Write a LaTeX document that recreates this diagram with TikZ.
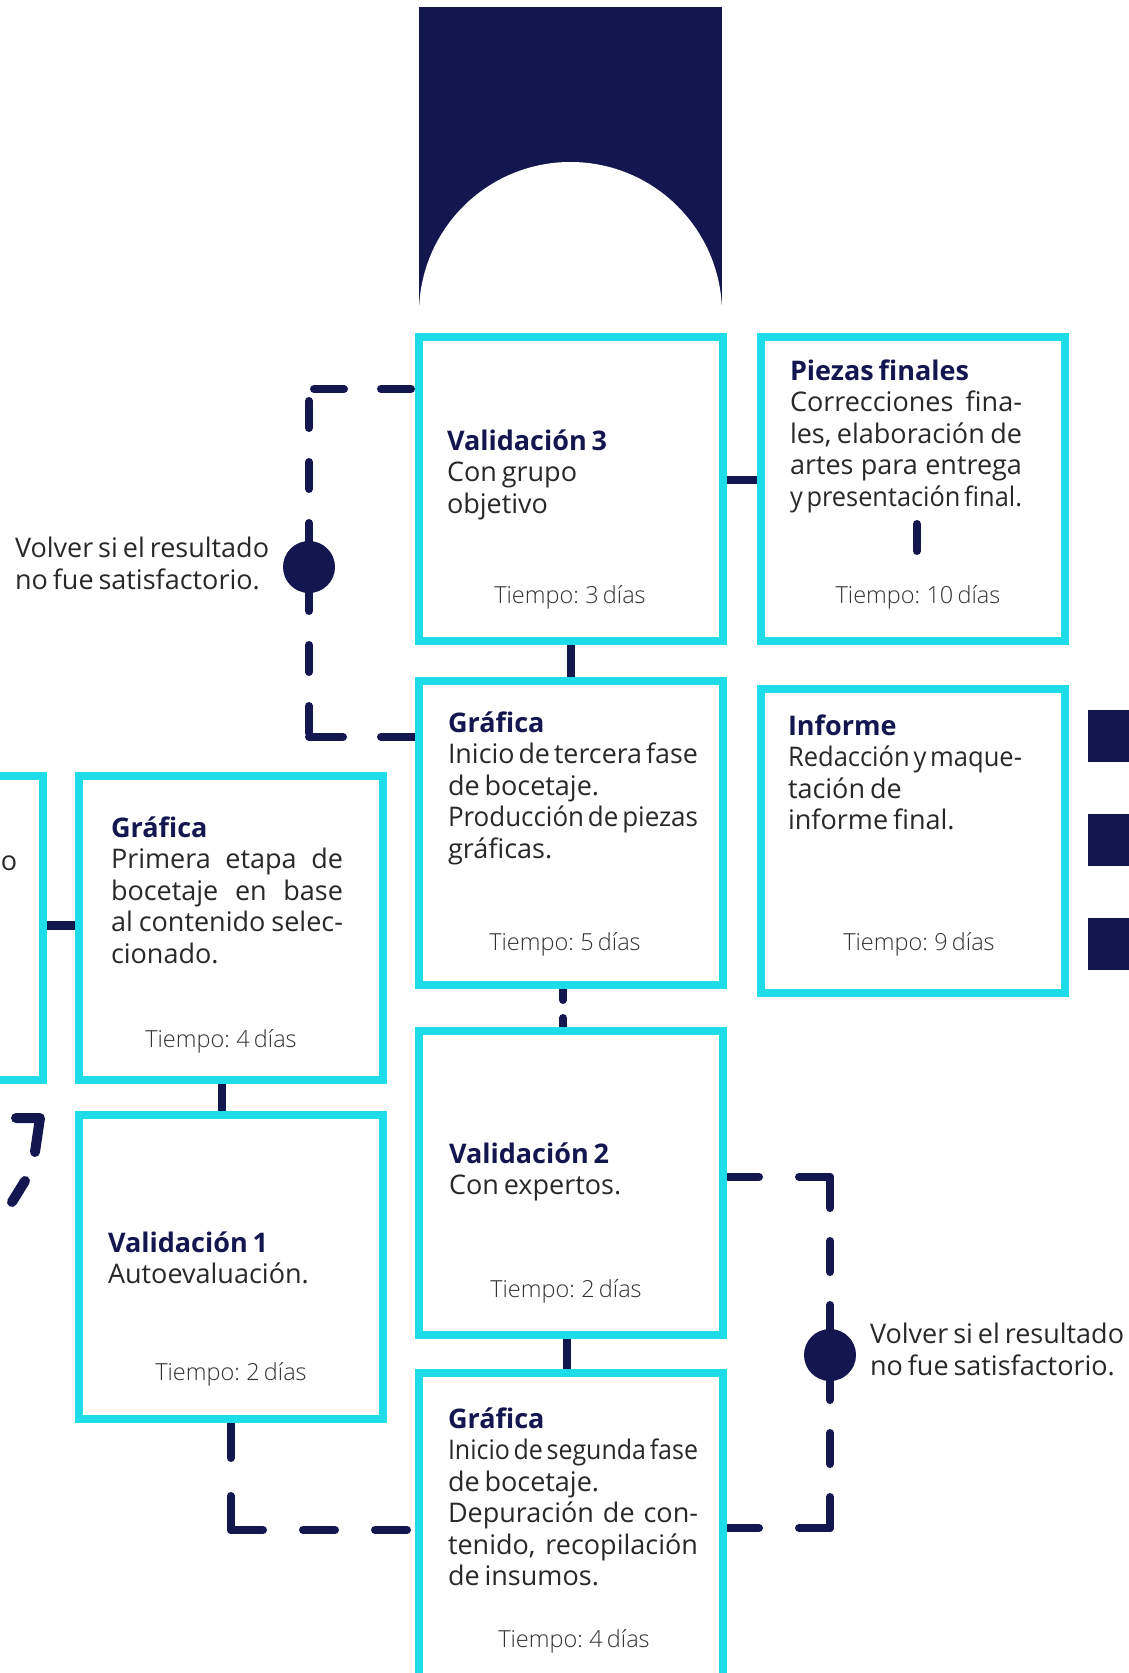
\documentclass[tikz,border=0pt]{standalone}
\usepackage{fontspec}
\usepackage{graphicx}
\setmainfont{Open Sans}[WordSpace={0.7}]
\IfFontExistsTF{Open Sans Light}{\newfontfamily\lightfont{Open Sans Light}[WordSpace={0.7}]}{\newfontfamily\lightfont{Open Sans}[WordSpace={0.7}]}
\pgfdeclarelayer{bg}
\pgfsetlayers{bg,main}
\definecolor{navy}{RGB}{20,22,80}
\definecolor{cyanb}{RGB}{30,220,232}
\definecolor{bodyc}{RGB}{40,40,40}
\definecolor{timec}{RGB}{50,50,50}
\newcommand\bodyfont{\fontsize{27}{31.5}\selectfont\lineskiplimit=-100pt\relax}
\newcommand\volfont{\fontsize{27}{32}\selectfont\lineskiplimit=-100pt\relax}
\newcommand\timefont{\lightfont\fontsize{23.5}{28}\selectfont}
\newsavebox\jbox
\newcommand\Ln[1]{\hbox{#1}}
\newcommand\Jn[1]{\sbox\jbox{#1}%
  \ifdim\wd\jbox>\linewidth
    \hbox{\resizebox{\linewidth}{\height}{\usebox\jbox}}%
  \else
    \hbox to \linewidth{#1}%
  \fi}
\newcommand\gap{\hskip 4pt plus 1fill\relax}
\newcommand\Ttl[1]{\hbox{\bfseries\color{navy}#1}}
\newcommand\Card[2]{\begin{minipage}[t]{#1}#2\end{minipage}}
\begin{document}
\begin{tikzpicture}[x=1pt,y=-1pt,
  card/.style={draw=cyanb, line width=8pt, fill=white, minimum width=304pt,
    minimum height=304pt, inner sep=0pt, outer sep=0pt},
  link/.style={draw=navy, line width=8pt, line cap=round},
  loopd/.style={draw=navy, line width=8pt, line cap=round},
  txt/.style={anchor=base west, inner sep=0pt, outer sep=0pt, text=bodyc, font=\bodyfont},
  voltxt/.style={anchor=base west, inner sep=0pt, outer sep=0pt, text=bodyc, font=\volfont},
  time/.style={anchor=base, inner sep=0pt, outer sep=0pt, text=timec, font=\timefont},
  dot/.style={circle, fill=navy, minimum size=52pt, inner sep=0pt}]
\useasboundingbox (0,0) rectangle (1129,1673);
\clip (0,0) rectangle (1129,1673);

% top shape
\begin{scope}
  \clip (419,7) rectangle (722,313.5);
  \fill[navy] (419,7) rectangle (722,313.5);
  \fill[white] (570.5,313.5) circle[radius=151.5pt];
\end{scope}

% right squares
\fill[navy] (1088,710) rectangle (1140,762);
\fill[navy] (1088,814) rectangle (1140,866);
\fill[navy] (1088,918) rectangle (1140,970);

% cards
\node[card] (v3) at (571,489) {};
\node[card] (pz) at (913,489) {};
\node[card] (g3) at (571,833) {};
\node[card] (inf) at (913,841) {};
\node[card] (v2) at (571,1183) {};
\node[card] (g1) at (231,928) {};
\node[card] (v1) at (231,1267) {};
\node[card] (lp) at (-109,928) {};
\node[card, minimum height=330pt] (g2) at (571,1538) {};

% loop corner coordinates
\coordinate (lTop) at (309,389);
\coordinate (lBot) at (309,737);
\coordinate (rTop) at (830,1177);
\coordinate (rBot) at (830,1528);
\coordinate (bl) at (231,1530);

\begin{pgfonlayer}{bg}
  \draw[link] ([yshift=9pt]v3.east) -- ([yshift=9pt]pz.west);
  \draw[link] (v3.south) -- (g3.north);
  \draw[link, dash pattern=on 15pt off 18pt] ([xshift=-8pt]g3.south) -- ([xshift=-8pt]v2.north);
  \draw[link] ([xshift=-4pt]v2.south) -- ([xshift=-4pt]g2.north);
  \draw[link] ([xshift=-9pt]g1.south) -- ([xshift=-9pt]v1.north);
  \draw[link, line width=9pt] ([yshift=3pt]lp.east) -- ([yshift=3pt]g1.west);
  % left loop
  \draw[loopd, dash pattern=on 30pt off 37pt, dash phase=62pt] (lTop) -- (v3.west |- lTop);
  \draw[loopd, dash pattern=on 27pt off 34pt, dash phase=49pt] (lTop) -- (lBot);
  \draw[loopd, dash pattern=on 34pt off 38pt] (lBot) -- (g3.west |- lBot);
  % right loop
  \draw[loopd, dash pattern=on 31pt off 40pt] (rTop) -- (v2.east |- rTop);
  \draw[loopd, dash pattern=on 31pt off 33pt] (rTop) -- (rBot);
  \draw[loopd, dash pattern=on 31pt off 40pt] (rBot) -- (g2.east |- rBot);
  % bottom-left loop
  \draw[loopd, dash pattern=on 34pt off 38pt] (bl) -- (v1.south);
  \draw[loopd, dash pattern=on 32pt off 40pt] (bl) -- (g2.west |- bl);
\end{pgfonlayer}

\node[dot] (d1) at (309,567) {};
\node[dot] (d2) at (830,1355) {};

% left curl pieces
\draw[navy, line width=10pt, line cap=round, line join=round] (16,1118) -- (40,1118) -- (35,1152);
\draw[navy, line width=10pt, line cap=round] (25,1181) -- (12,1202);

% stub inside Piezas finales
\coordinate (pzs1) at (917,524);
\coordinate (pzs2) at (917,551);
\draw[link] (pzs1) -- (pzs2);

% texts
\node[txt] (t-v3) at (447,450) {\Card{250pt}{\Ttl{Validación 3}\Ln{Con grupo}\Ln{objetivo}}};
\node[txt] (t-pz) at (790,380) {\Card{232pt}{\Ttl{Piezas finales}\Jn{Correcciones\gap fina-}\Jn{les,\gap elaboración\gap de}\Jn{artes\gap para\gap entrega}\Jn{y\gap presentación\gap final.}}};
\node[txt] (t-g3) at (448,732) {\Card{250pt}{\Ttl{Gráfica}\Jn{Inicio\gap de\gap tercera\gap fase}\Ln{de bocetaje.}\Jn{Producción\gap de\gap piezas}\Ln{gráficas.}}};
\node[txt] (t-inf) at (788,735) {\Card{234pt}{\Ttl{Informe}\Jn{Redacción\gap y\gap maque-}\Ln{tación de}\Ln{informe final.}}};
\node[txt] (t-g1) at (111,837) {\Card{232pt}{\Ttl{Gráfica}\Jn{Primera\gap etapa\gap de}\Jn{bocetaje\gap en\gap base}\Jn{al\gap contenido\gap selec-}\Ln{cionado.}}};
\node[txt] (t-v1) at (108,1252) {\Card{250pt}{\Ttl{Validación 1}\Ln{Autoevaluación.}}};
\node[txt] (t-v2) at (449,1163) {\Card{250pt}{\Ttl{Validación 2}\Ln{Con expertos.}}};
\node[txt] (t-g2) at (448,1428) {\Card{250pt}{\Ttl{Gráfica}\Jn{Inicio\gap de\gap segunda\gap fase}\Ln{de bocetaje.}\Jn{Depuración\gap de\gap con-}\Jn{tenido,\gap recopilación}\Ln{de insumos.}}};
\node[txt] (t-lp) at (1,870) {o};

\node[time] (tt-v3) at (570,603) {Tiempo: 3 días};
\node[time] (tt-pz) at (918,603) {Tiempo: 10 días};
\node[time] (tt-g3) at (565,950) {Tiempo: 5 días};
\node[time] (tt-inf) at (919,950) {Tiempo: 9 días};
\node[time] (tt-g1) at (221,1047) {Tiempo: 4 días};
\node[time] (tt-v1) at (231,1380) {Tiempo: 2 días};
\node[time] (tt-v2) at (566,1297) {Tiempo: 2 días};
\node[time] (tt-g2) at (574,1647) {Tiempo: 4 días};

\node[voltxt] (vol1) at (15,557) {\Card{300pt}{\Ln{Volver si el resultado}\Ln{no fue satisfactorio.}}};
\node[voltxt] (vol2) at (870,1343) {\Card{300pt}{\Ln{Volver si el resultado}\Ln{no fue satisfactorio.}}};
\end{tikzpicture}
\end{document}
